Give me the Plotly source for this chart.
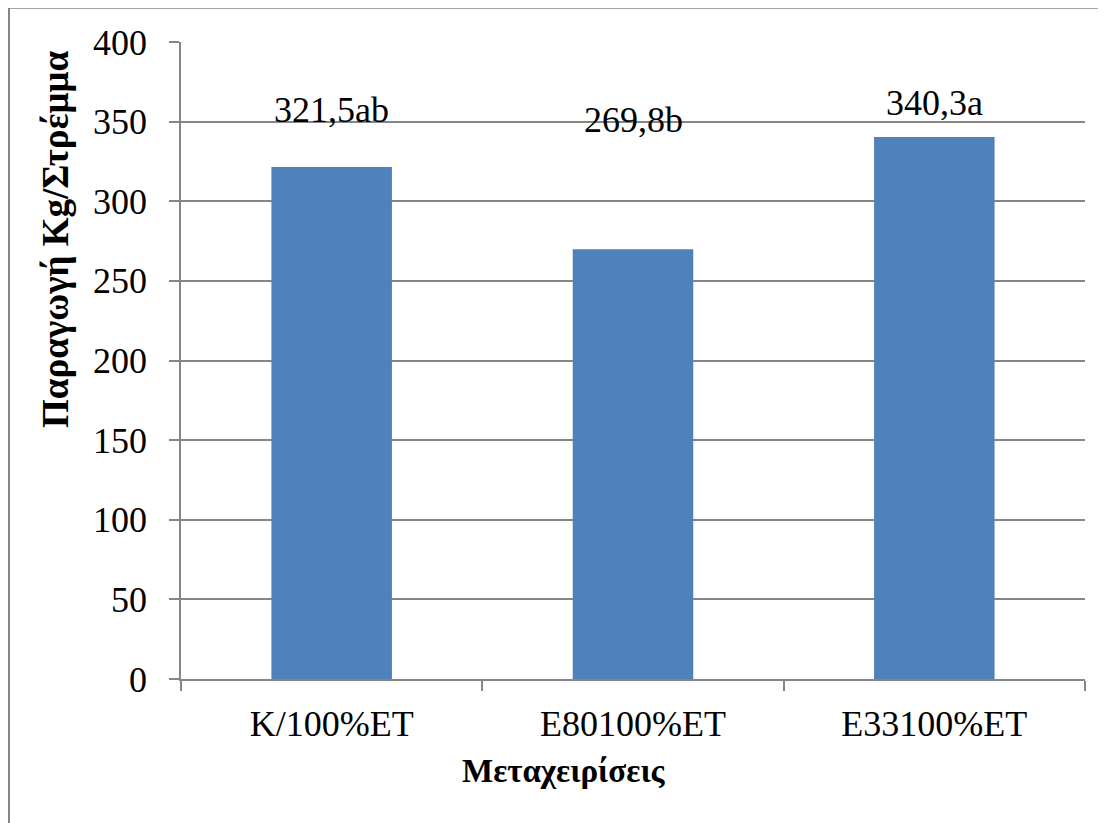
import plotly.graph_objects as go

categories = ["K/100%ET", "E80100%ET", "E33100%ET"]
values = [321.5, 269.8, 340.3]
labels = ["321,5ab", "269,8b", "340,3a"]
label_y = [357, 351, 362]

y_ticks = [0, 50, 100, 150, 200, 250, 300, 350, 400]

x_title = "Μεταχειρίσεις"
y_title = "Παραγωγή Kg/Στρέμμα"

FONT = "Liberation Serif"
GRID = "#868686"

fig = go.Figure()
fig.add_trace(go.Bar(
    x=categories, y=values,
    marker=dict(color="#4F81BD", line=dict(width=0)),
    width=0.4,
))

for c, t, ly in zip(categories, labels, label_y):
    fig.add_annotation(x=c, y=ly, text=t, showarrow=False,
                       font=dict(family=FONT, size=36, color="black"),
                       xref="x", yref="y")

# page offset of 8px (browser body margin) compensated
OFF = 8
W, H = 1106, 823
L, T = 181 - OFF, 42 - OFF
R = W - (1085 - OFF)
B = H - (679 - OFF)
pw, ph = W - L - R, H - T - B

def px(x):
    return (x - OFF - L) / pw

def py(y):
    return (H - B - (y - OFF)) / ph

# outer chart frame (top and left edges visible)
fig.add_shape(type="line", xref="paper", yref="paper",
              x0=px(9), x1=px(1120), y0=py(8), y1=py(8),
              line=dict(color=GRID, width=1.5))
fig.add_shape(type="line", xref="paper", yref="paper",
              x0=px(9), x1=px(9), y0=py(8), y1=py(840),
              line=dict(color=GRID, width=2))

# axis titles (placed as in the original, not centred on the plot)
fig.add_annotation(text="<b>" + x_title + "</b>", xref="paper", yref="paper",
                   x=px(564), y=py(771), xanchor="center", yanchor="middle",
                   showarrow=False, font=dict(family=FONT, size=33, color="black"))
fig.add_annotation(text="<b>" + y_title + "</b>", xref="paper", yref="paper",
                   x=px(55), y=py(240), xanchor="center", yanchor="middle",
                   textangle=-90,
                   showarrow=False, font=dict(family=FONT, size=37, color="black"))

fig.update_layout(
    width=W, height=H,
    margin=dict(l=L, r=R, t=T, b=B),
    paper_bgcolor="white", plot_bgcolor="white",
    showlegend=False,
    font=dict(family=FONT, color="black"),
    xaxis=dict(
        showline=True, linecolor=GRID, linewidth=1.5,
        ticks="outside", ticklen=10, tickcolor=GRID, tickwidth=1.5,
        tickson="boundaries",
        ticklabelstandoff=12,
        tickfont=dict(family=FONT, size=36, color="black"),
        showgrid=False,
    ),
    yaxis=dict(
        range=[0, 400], tickvals=y_ticks,
        showline=True, linecolor=GRID, linewidth=1.5,
        ticks="outside", ticklen=10, tickcolor=GRID, tickwidth=1.5,
        ticklabelstandoff=15,
        showgrid=True, gridcolor=GRID, gridwidth=1.5,
        zeroline=False,
        tickfont=dict(family=FONT, size=36, color="black"),
    ),
)

fig.write_html("out.html")
